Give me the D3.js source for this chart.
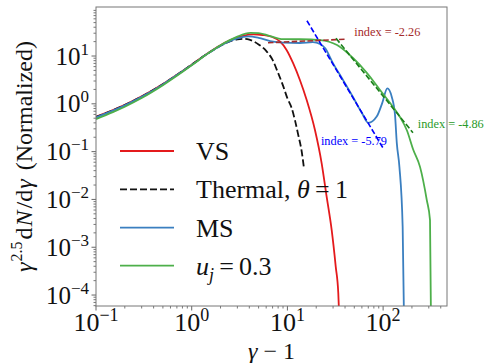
<!DOCTYPE html>
<html>
<head>
<meta charset="utf-8">
<script src="https://cdn.jsdelivr.net/npm/d3@7"></script>
<style>
	body { margin: 0; background: #fff; }
	svg text { font-family: "Liberation Serif", "DejaVu Serif", serif; }
</style>
</head>
<body>
<svg id="chart"></svg>
<script>
'use strict'

// spectra: [gamma - 1, gamma^2.5 dN/dgamma]
const vsData = [[0.1,0.54],[0.15,0.74],[0.2,0.95],[0.3,1.43],[0.5,2.6],[0.7,4.05],[1,6.6],[1.5,11.7],[2,16.8],
	[2.5,21.2],[3,24.5],[3.5,26.8],[4.4,28.4],[5.5,27.5],[6.85,25.3],[8.4,19.9],[9.8,13.4],[11.5,7.0],[13.5,3.15],
	[15.9,1.2],[19.4,0.283],[22.8,0.057],[25.7,0.0114],[29,0.0023],[32,3.9e-4],[34,1.1e-4],[34.7,4e-5]]

const thermalData = [[0.1,0.53],[0.15,0.73],[0.2,0.94],[0.3,1.41],[0.5,2.57],[0.7,4.0],[1,6.6],[1.5,11.6],[2,16.4],
	[2.5,20.2],[3,22.3],[3.5,22.8],[4,22],[5,17.5],[6,12.8],[7,8.3],[8,4.4],[9,2.4],[10,1.3],[11,0.85],[12,0.45],
	[13,0.22],[14,0.11],[14.9,0.045]]

const msData = [[0.1,0.52],[0.15,0.72],[0.2,0.93],[0.3,1.4],[0.5,2.55],[0.7,4.0],[1,6.5],[1.5,11.5],[2,16.5],
	[2.5,20.5],[3,23.5],[3.9,25.8],[5,24],[6.6,20.5],[9,19],[13.5,18.7],[18.5,19.5],[21.9,17.8],[24.7,14.7],
	[29.9,7.1],[38.1,3.15],[48.4,1.39],[60.1,0.64],[70,0.4],[85.7,0.54],[97.6,1.02],[110.7,2.11],[123,1.41],
	[133,0.6],[139,0.151],[148,0.048],[160,0.0027],[165,4e-5]]

const ujData = [[0.1,0.48],[0.15,0.67],[0.2,0.87],[0.3,1.32],[0.5,2.45],[0.7,3.85],[1,6.4],[1.5,11.5],[2,16.8],
	[2.5,21.5],[3,25.5],[4.1,30.5],[5,30],[6.1,27.5],[9,22.5],[13.5,22.4],[21.9,21.6],[33,17],[48.4,9.1],
	[67.9,4.4],[92.8,1.95],[127,0.86],[150,0.53],[177,0.28],[207,0.108],[243,0.048],[286,0.0097],[309,0.0037],[316,4e-5]]

// power-law fits (two end points each)
const fitVs = [[6.27,19.0],[40,22.4]]
const fitMs = [[16.0,54.7],[99.8,0.119]]
const fitUj = [[32.2,23.4],[205,0.248]]

const fitLabels = ["index = -2.26", "index = -5.79", "index = -4.86"]
const fitLabelPos = [[50,26],[22.4,0.137],[230,0.307]]

const legendNames = ["VS", "Thermal", "MS", "uj"]

const xTickValues = [0.1, 1, 10, 100]
const xTickExp = ["\u22121", "0", "1", "2"]
const yTickValues = [1e-4, 1e-3, 1e-2, 1e-1, 1, 10]
const yTickExp = ["\u22124", "\u22123", "\u22122", "\u22121", "0", "1"]

const chartWidth = 486,
	chartHeight = 363
const margin = { top: 7, right: 39, bottom: 57, left: 96 }
const width = chartWidth - margin.left - margin.right,
	height = chartHeight - margin.top - margin.bottom

const svg = d3.select("#chart")
	.attr("width", chartWidth)
	.attr("height", chartHeight)

const g = svg.append("g").attr("transform", "translate(" + margin.left + "," + margin.top + ")")

const x = d3.scaleLog().domain([0.1, 465]).range([0, width])
const y = d3.scaleLog().domain([5.9e-5, 106]).range([height, 0])

svg.append("defs").append("clipPath").attr("id", "plotclip")
	.append("rect").attr("width", width).attr("height", height)

// minor ticks for every decade
const minorTicks = (lo, hi) => {
	const out = []
	for (let e = lo; e <= hi; e++)
		for (let k = 2; k <= 9; k++) out.push(k * Math.pow(10, e))
	return out
}
const xMinor = minorTicks(-1, 2).filter(v => v <= x.domain()[1])
const yMinor = minorTicks(-5, 2).filter(v => v >= y.domain()[0] && v <= y.domain()[1])

const tickColor = "#555"
g.append("g").selectAll("line").data(xMinor).enter().append("line")
	.attr("x1", d => x(d)).attr("x2", d => x(d))
	.attr("y1", height).attr("y2", height + 2.5)
	.attr("stroke", tickColor).attr("stroke-width", 0.8)
g.append("g").selectAll("line").data(xTickValues).enter().append("line")
	.attr("x1", d => x(d)).attr("x2", d => x(d))
	.attr("y1", height).attr("y2", height + 4.5)
	.attr("stroke", tickColor).attr("stroke-width", 0.9)
g.append("g").selectAll("line").data(yMinor).enter().append("line")
	.attr("y1", d => y(d)).attr("y2", d => y(d))
	.attr("x1", 0).attr("x2", -2.5)
	.attr("stroke", tickColor).attr("stroke-width", 0.8)
g.append("g").selectAll("line").data(yTickValues).enter().append("line")
	.attr("y1", d => y(d)).attr("y2", d => y(d))
	.attr("x1", 0).attr("x2", -4.5)
	.attr("stroke", tickColor).attr("stroke-width", 0.9)

// tick labels as 10^n
const xLab = g.append("g").selectAll("text").data(xTickValues).enter().append("text")
	.attr("x", d => x(d)).attr("y", height + 25)
	.attr("text-anchor", "middle")
	.attr("font-size", 26).attr("fill", "#111")
xLab.append("tspan").text("10")
xLab.append("tspan").attr("dy", -10).attr("font-size", 18).text((d, i) => xTickExp[i])

const yLab = g.append("g").selectAll("text").data(yTickValues).enter().append("text")
	.attr("x", -7).attr("y", d => y(d) + 8.5)
	.attr("text-anchor", "end")
	.attr("font-size", 25).attr("fill", "#111")
yLab.append("tspan").text("10")
yLab.append("tspan").attr("dy", -10).attr("font-size", 17).text((d, i) => yTickExp[i])

// curves
const line = d3.line().x(d => x(d[0])).y(d => y(d[1])).curve(d3.curveMonotoneX)
const plot = g.append("g").attr("clip-path", "url(#plotclip)")

const series = [
	{ data: vsData, color: "#e41a1c", dash: null, w: 1.8 },
	{ data: thermalData, color: "#111", dash: "7,3", w: 1.8 },
	{ data: msData, color: "#3a7fc0", dash: null, w: 1.8 },
	{ data: ujData, color: "#4daf4a", dash: null, w: 1.8 }
]
series.forEach(s => {
	plot.append("path")
		.attr("d", line(s.data))
		.attr("fill", "none")
		.attr("stroke", s.color)
		.attr("stroke-width", s.w)
		.attr("stroke-dasharray", s.dash)
})

const fits = [
	{ data: fitVs, color: "#a52a2a" },
	{ data: fitMs, color: "#0000ff" },
	{ data: fitUj, color: "#1a7f1a" }
]
const straight = d3.line().x(d => x(d[0])).y(d => y(d[1]))
fits.forEach(f => {
	plot.append("path")
		.attr("d", straight(f.data))
		.attr("fill", "none")
		.attr("stroke", f.color)
		.attr("stroke-width", 1.6)
		.attr("stroke-dasharray", "5.5,2.4")
})

const labelColors = ["#a52a2a", "#0000ff", "#2a9a2a"]
g.append("g").selectAll("text").data(fitLabels).enter().append("text")
	.attr("x", (d, i) => x(fitLabelPos[i][0]))
	.attr("y", (d, i) => y(fitLabelPos[i][1]))
	.attr("font-size", 12.3)
	.attr("fill", (d, i) => labelColors[i])
	.text(d => d)

// frame
g.append("rect").attr("width", width).attr("height", height)
	.attr("fill", "none").attr("stroke", "#777").attr("stroke-width", 1)

// legend
const legend = g.append("g")
const legY = [144, 182.3, 220.7, 258.7]
legendNames.forEach((name, i) => {
	const s = series[i]
	legend.append("line")
		.attr("x1", 24).attr("x2", 78)
		.attr("y1", legY[i]).attr("y2", legY[i])
		.attr("stroke", s.color).attr("stroke-width", s.w)
		.attr("stroke-dasharray", s.dash)
	const t = legend.append("text")
		.attr("x", 100).attr("y", legY[i] + 9)
		.attr("font-size", 26).attr("fill", "#111")
	if (name === "Thermal") {
		t.append("tspan").text("Thermal, ")
		t.append("tspan").attr("font-style", "italic").text("\u03b8")
		t.append("tspan").text("\u2009=\u20091")
	} else if (name === "uj") {
		t.append("tspan").attr("font-style", "italic").text("u")
		t.append("tspan").attr("font-style", "italic").attr("font-size", 18).attr("dy", 6).text("j")
		t.append("tspan").attr("dy", -6).text("\u2009=\u20090.3")
	} else {
		t.text(name)
	}
})

// axis titles
const xt = svg.append("text")
	.attr("x", margin.left + width / 2).attr("y", 359)
	.attr("text-anchor", "middle").attr("font-size", 24).attr("fill", "#111")
xt.append("tspan").attr("font-style", "italic").text("\u03b3")
xt.append("tspan").text(" \u2212 1")

const yt = svg.append("text")
	.attr("transform", "translate(32," + (margin.top + height / 2) + ") rotate(-90)")
	.attr("text-anchor", "middle").attr("font-size", 24).attr("fill", "#111")
yt.append("tspan").attr("font-style", "italic").text("\u03b3")
yt.append("tspan").attr("font-size", 16).attr("dy", -10).attr("dx", 1).text("2.5")
yt.append("tspan").attr("dy", 10).attr("dx", 2).text("d")
yt.append("tspan").attr("font-style", "italic").attr("dx", 1).text("N")
yt.append("tspan").attr("dx", 2).text("/d")
yt.append("tspan").attr("font-style", "italic").attr("dx", 1).text("\u03b3")
yt.append("tspan").attr("dx", 3).text(" (Normalized)")
</script>
</body>
</html>
